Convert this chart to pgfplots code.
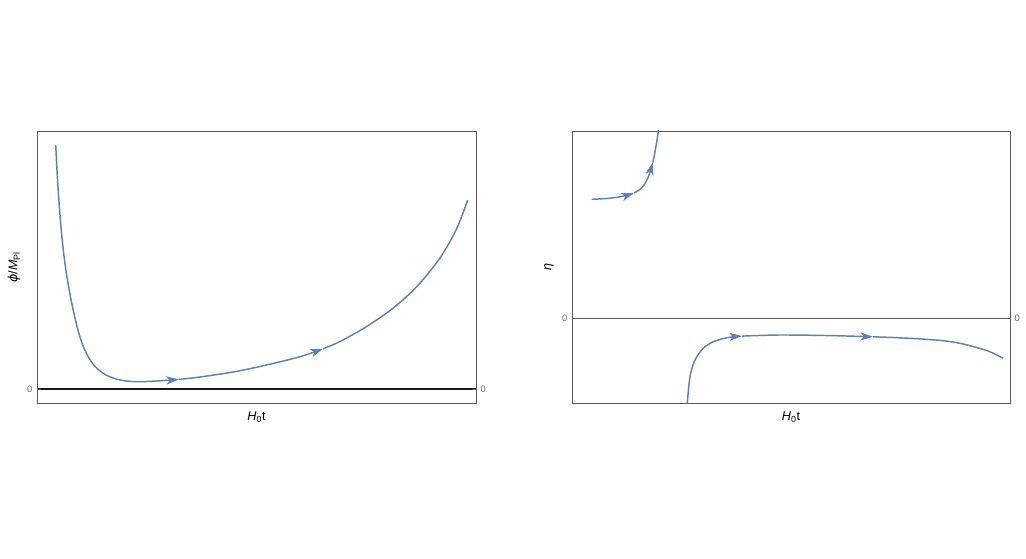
\documentclass[border=0pt]{standalone}
\usepackage{pgfplots}
\pgfplotsset{compat=1.18}
\usepackage{fontspec}
\setmainfont{Liberation Sans}
\newfontfamily\dejavu{DejaVu Sans}
\usetikzlibrary{arrows.meta}
\definecolor{curve}{RGB}{94,129,181}
\definecolor{frame}{RGB}{90,90,90}
\definecolor{ticktext}{RGB}{100,100,100}
\pgfplotsset{
 panel/.style={scale only axis, height=204pt, axis line style={frame, line width=0.6pt},
   xtick=\empty, ytick={0}, tick align=inside, major tick length=3pt,
   tick style={frame, line width=0.6pt},
   yticklabel style={font=\fontsize{7}{8}\selectfont, text=ticktext},
   /pgf/number format/assume math mode=true, clip=true,
   label style={font=\fontsize{9.5}{11}\selectfont},
   xlabel style={at={(axis description cs:0.5,-0.0515)}, anchor=center},
   ylabel style={anchor=center}},
 cur/.style={curve, line width=1.1pt, smooth, tension=0.5, no markers},
 arr/.style={cur, -{Stealth[length=9.5pt,width=6.2pt,inset=2.6pt]}}
}
\begin{document}
\begin{tikzpicture}
\useasboundingbox (0,0) rectangle (769.5pt,418.5pt);
% ---------------- left panel ----------------
\begin{axis}[panel, width=329.25pt, at={(27.75pt,116.25pt)}, anchor=south west,
  xmin=37, xmax=476, ymin=-14, ymax=258,
  xlabel={\textit{H}\textsubscript{0}t},
  ylabel={{\dejavu\itshape ϕ}/\textit{M}\textsubscript{Pl}},
  ylabel style={at={(axis description cs:-0.0524,0.5)}}]
\addplot[black!90, line width=0.8pt] coordinates {(37,0) (476,0)};
\addplot[arr] coordinates {(55.7,244) (57.2,215) (59,187.3) (61.7,154) (65.7,120) (71.7,86) (78.5,57) (85,38.5) (93.3,24.5) (105,14.5) (120,9) (136.7,7.3) (156.7,8) (179,9.6)};
\addplot[arr] coordinates {(179,9.6) (200,12) (236,17.5) (270,24.8) (300,32.3) (323,40.2)};
\addplot[cur] coordinates {(323,40.2) (340,47.5) (366.7,62.5) (393.3,81) (416.7,102.3) (440,131) (456.7,160.5) (467.7,189)};
\end{axis}
\begin{axis}[panel, width=329.25pt, at={(27.75pt,116.25pt)}, anchor=south west,
  xmin=37, xmax=476, ymin=-14, ymax=258, yticklabel pos=right]
\end{axis}
% ---------------- right panel ----------------
\begin{axis}[panel, width=328.5pt, at={(429pt,116.25pt)}, anchor=south west,
  xmin=572, xmax=1010, ymin=-85, ymax=187,
  xlabel={\textit{H}\textsubscript{0}t},
  ylabel={\textit{η}},
  ylabel style={at={(axis description cs:-0.0525,0.5)}}]
\addplot[frame, line width=0.6pt] coordinates {(572,0) (1010,0)};
\addplot[arr] coordinates {(591.7,118.7) (605,119.4) (615,120.4) (625,122.2) (634,125)};
\addplot[arr] coordinates {(634,125) (638,127.2) (642,130.5) (645,134.5) (648.3,141) (650.5,147.5) (652.8,155.5)};
\addplot[cur] coordinates {(652.8,155.5) (655,166) (657,178) (658.8,190)};
\addplot[arr] coordinates {(686.8,-92) (687.3,-84.7) (690,-58.7) (695,-42) (703.3,-30.3) (713.3,-23.7) (728,-19.5) (742,-18.1)};
\addplot[arr] coordinates {(742,-18.1) (780,-17) (830,-17.6) (873,-18.8)};
\addplot[cur] coordinates {(873,-18.8) (893,-19.5) (920,-20.9) (943,-22.7) (960,-25.3) (976.7,-29.5) (990,-33.8) (1003.3,-40.3)};
\end{axis}
\begin{axis}[panel, width=328.5pt, at={(429pt,116.25pt)}, anchor=south west,
  xmin=572, xmax=1010, ymin=-85, ymax=187, yticklabel pos=right]
\end{axis}
\end{tikzpicture}
\end{document}
